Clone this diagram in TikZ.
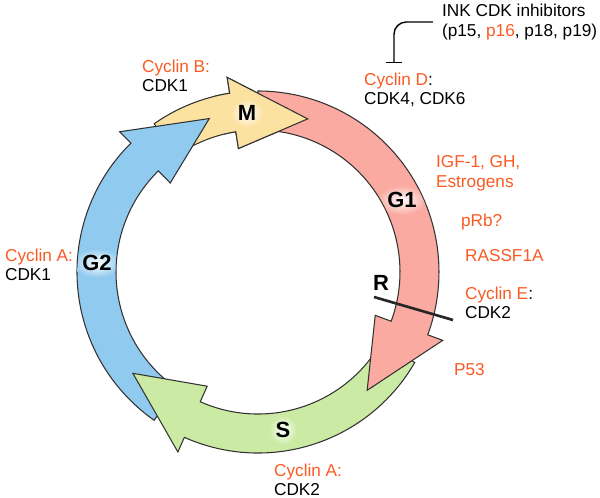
\documentclass[tikz,border=0pt]{standalone}
\usepackage{fontspec}
\setmainfont{Liberation Sans}
\usetikzlibrary{arrows.meta,shapes.geometric}

\definecolor{cyclinred}{RGB}{250,90,35}
\definecolor{gonefill}{RGB}{250,170,160}
\definecolor{sfill}{RGB}{203,234,163}
\definecolor{gtwofill}{RGB}{144,202,239}
\definecolor{mfill}{RGB}{252,226,160}
\definecolor{edge}{RGB}{50,50,50}

% one phase of the ring: fill colour, tail angle, tip angle
\newcommand{\phasearrow}[3]{%
  \pgfmathsetmacro{\headbase}{#3+27}%
  \draw[band, fill=#1] (#2:181) arc[start angle=#2, end angle=\headbase, radius=181]
    -- (\headbase:197) -- (#3:161) -- (\headbase:125) -- (\headbase:142)
    arc[start angle=\headbase, end angle=#2, radius=142] -- cycle;}

\begin{document}
\begin{tikzpicture}[x=0.02cm, y=0.02cm,
    band/.style={draw=edge, line width=0.6pt, line join=miter},
    phase/.style={ellipse, inner sep=1.5pt, inner color=white, outer color=#1,
      font=\bfseries\fontsize{12.5}{12.5}\selectfont},
    info/.style={align=left, inner sep=1pt, anchor=west,
      font=\fontsize{9.8}{11.2}\selectfont},
    hot/.style={info, text=cyclinred}]
\useasboundingbox (-258,-226) rectangle (342,272);

% the four phases, clockwise
\phasearrow{mfill}{125}{72}
\phasearrow{gtwofill}{235}{107.6}
\phasearrow{sfill}{330}{219}
\phasearrow{gonefill}{90}{-47.3}
% M head lies over the G1 tail
\begin{scope}
  \clip (0,0) -- (60:240) arc[start angle=60, end angle=104, radius=240] -- cycle;
  \phasearrow{mfill}{125}{72}
\end{scope}

% phase names, glow kept inside the ring
\begin{scope}[even odd rule]
  \clip (0,0) circle (180.3) (0,0) circle (142.7);
  \node[phase=mfill] (m) at (-11,159) {M};
  \node[phase=gonefill] (g1) at (144,72) {G1};
  \node[phase=gtwofill] (g2) at (-161,9) {G2};
  \node[phase=sfill] (s) at (25,-158) {S};
\end{scope}

% restriction point
\node[font=\bfseries\fontsize{12.5}{12.5}\selectfont] (r) at (123,-11) {R};
\coordinate (rin) at (116,-25);
\coordinate (rout) at (195,-48);
\draw[line width=1.5pt, black!85] (rin) -- (rout);

\node[info] (ink) at (182,250) {INK CDK inhibitors\\(p15, \textcolor{cyclinred}{p16}, p18, p19)};
\node[info] (cycd) at (104,182) {\textcolor{cyclinred}{Cyclin D}:\\CDK4, CDK6};
\node[info] (cycb) at (-118,196) {\textcolor{cyclinred}{Cyclin B:}\\CDK1};
\node[hot] (igf) at (176,99) {IGF-1, GH,\\Estrogens};
\node[hot] (prb) at (201,50) {pRb?};
\node[hot] (rassf) at (205,16) {RASSF1A};
\node[info] (cyce) at (205,-31) {\textcolor{cyclinred}{Cyclin E}:\\CDK2};
\node[hot] (p53) at (194,-98) {P53};
\node[info] (cycag) at (-255,7) {\textcolor{cyclinred}{Cyclin A:}\\CDK1};
\node[info] (cycas) at (14,-208) {\textcolor{cyclinred}{Cyclin A:}\\CDK2};

% inhibition of cyclin D
\coordinate (inkbar) at (136,209);
\draw[line width=0.8pt, rounded corners=7pt, -{Bar[width=9pt]}] ([xshift=-4pt]ink.west) -| (inkbar);
\end{tikzpicture}
\end{document}
